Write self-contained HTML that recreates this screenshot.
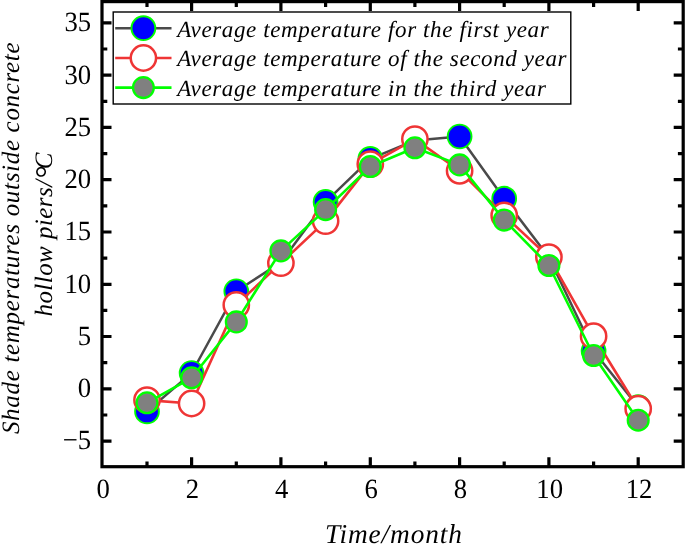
<!DOCTYPE html>
<html><head><meta charset="utf-8"><title>chart</title>
<style>html,body{margin:0;padding:0;background:#fff}svg{display:block;will-change:transform}text{font-family:"Liberation Serif",serif;fill:#000;text-rendering:geometricPrecision}</style></head>
<body>
<svg width="685" height="545" viewBox="0 0 685 545">
<rect width="685" height="545" fill="#fff"/>
<polyline points="147.0,411.4 191.6,373.0 236.3,291.3 280.9,262.4 325.6,201.9 370.3,158.9 414.9,140.4 459.6,136.5 504.2,198.7 548.9,257.3 593.6,351.0 638.2,407.0" fill="none" stroke="#4a4a4a" stroke-width="2.5" stroke-linejoin="round"/>
<circle cx="147.0" cy="411.4" r="11.9" fill="#0000ff" stroke="#00ff00" stroke-width="1.9"/>
<circle cx="191.6" cy="373.0" r="11.9" fill="#0000ff" stroke="#00ff00" stroke-width="1.9"/>
<circle cx="236.3" cy="291.3" r="11.9" fill="#0000ff" stroke="#00ff00" stroke-width="1.9"/>
<circle cx="280.9" cy="262.4" r="11.9" fill="#0000ff" stroke="#00ff00" stroke-width="1.9"/>
<circle cx="325.6" cy="201.9" r="11.9" fill="#0000ff" stroke="#00ff00" stroke-width="1.9"/>
<circle cx="370.3" cy="158.9" r="11.9" fill="#0000ff" stroke="#00ff00" stroke-width="1.9"/>
<circle cx="414.9" cy="140.4" r="11.9" fill="#0000ff" stroke="#00ff00" stroke-width="1.9"/>
<circle cx="459.6" cy="136.5" r="11.9" fill="#0000ff" stroke="#00ff00" stroke-width="1.9"/>
<circle cx="504.2" cy="198.7" r="11.9" fill="#0000ff" stroke="#00ff00" stroke-width="1.9"/>
<circle cx="548.9" cy="257.3" r="11.9" fill="#0000ff" stroke="#00ff00" stroke-width="1.9"/>
<circle cx="593.6" cy="351.0" r="11.9" fill="#0000ff" stroke="#00ff00" stroke-width="1.9"/>
<circle cx="638.2" cy="407.0" r="11.9" fill="#0000ff" stroke="#00ff00" stroke-width="1.9"/>
<polyline points="147.0,400.1 191.6,403.5 236.3,304.9 280.9,263.1 325.6,221.1 370.3,164.1 414.9,139.1 459.6,170.8 504.2,215.4 548.9,257.1 593.6,336.2 638.2,408.7" fill="none" stroke="#ef3535" stroke-width="2.6" stroke-linejoin="round"/>
<circle cx="147.0" cy="400.1" r="12.65" fill="#fff" stroke="#ef3535" stroke-width="2.5"/>
<circle cx="191.6" cy="403.5" r="12.65" fill="#fff" stroke="#ef3535" stroke-width="2.5"/>
<circle cx="236.3" cy="304.9" r="12.65" fill="#fff" stroke="#ef3535" stroke-width="2.5"/>
<circle cx="280.9" cy="263.1" r="12.65" fill="#fff" stroke="#ef3535" stroke-width="2.5"/>
<circle cx="325.6" cy="221.1" r="12.65" fill="#fff" stroke="#ef3535" stroke-width="2.5"/>
<circle cx="370.3" cy="164.1" r="12.65" fill="#fff" stroke="#ef3535" stroke-width="2.5"/>
<circle cx="414.9" cy="139.1" r="12.65" fill="#fff" stroke="#ef3535" stroke-width="2.5"/>
<circle cx="459.6" cy="170.8" r="12.65" fill="#fff" stroke="#ef3535" stroke-width="2.5"/>
<circle cx="504.2" cy="215.4" r="12.65" fill="#fff" stroke="#ef3535" stroke-width="2.5"/>
<circle cx="548.9" cy="257.1" r="12.65" fill="#fff" stroke="#ef3535" stroke-width="2.5"/>
<circle cx="593.6" cy="336.2" r="12.65" fill="#fff" stroke="#ef3535" stroke-width="2.5"/>
<circle cx="638.2" cy="408.7" r="12.65" fill="#fff" stroke="#ef3535" stroke-width="2.5"/>
<polyline points="147.0,402.8 191.6,377.8 236.3,321.9 280.9,250.9 325.6,209.6 370.3,166.5 414.9,147.8 459.6,164.9 504.2,220.1 548.9,265.5 593.6,355.5 638.2,420.2" fill="none" stroke="#00ff00" stroke-width="2.6" stroke-linejoin="round"/>
<circle cx="147.0" cy="402.8" r="10.4" fill="#808080" stroke="#00ff00" stroke-width="2.3"/>
<circle cx="191.6" cy="377.8" r="10.4" fill="#808080" stroke="#00ff00" stroke-width="2.3"/>
<circle cx="236.3" cy="321.9" r="10.4" fill="#808080" stroke="#00ff00" stroke-width="2.3"/>
<circle cx="280.9" cy="250.9" r="10.4" fill="#808080" stroke="#00ff00" stroke-width="2.3"/>
<circle cx="325.6" cy="209.6" r="10.4" fill="#808080" stroke="#00ff00" stroke-width="2.3"/>
<circle cx="370.3" cy="166.5" r="10.4" fill="#808080" stroke="#00ff00" stroke-width="2.3"/>
<circle cx="414.9" cy="147.8" r="10.4" fill="#808080" stroke="#00ff00" stroke-width="2.3"/>
<circle cx="459.6" cy="164.9" r="10.4" fill="#808080" stroke="#00ff00" stroke-width="2.3"/>
<circle cx="504.2" cy="220.1" r="10.4" fill="#808080" stroke="#00ff00" stroke-width="2.3"/>
<circle cx="548.9" cy="265.5" r="10.4" fill="#808080" stroke="#00ff00" stroke-width="2.3"/>
<circle cx="593.6" cy="355.5" r="10.4" fill="#808080" stroke="#00ff00" stroke-width="2.3"/>
<circle cx="638.2" cy="420.2" r="10.4" fill="#808080" stroke="#00ff00" stroke-width="2.3"/>
<g stroke="#000" stroke-width="3.2" fill="none" stroke-linecap="butt">
<rect x="102.0" y="1.6" width="581.2" height="465.09999999999997"/>
<path d="M147.0 466.7v-5.3M147.0 1.6v5.3M191.6 466.7v-9.5M191.6 1.6v9.5M236.3 466.7v-5.3M236.3 1.6v5.3M280.9 466.7v-9.5M280.9 1.6v9.5M325.6 466.7v-5.3M325.6 1.6v5.3M370.3 466.7v-9.5M370.3 1.6v9.5M414.9 466.7v-5.3M414.9 1.6v5.3M459.6 466.7v-9.5M459.6 1.6v9.5M504.2 466.7v-5.3M504.2 1.6v5.3M548.9 466.7v-9.5M548.9 1.6v9.5M593.6 466.7v-5.3M593.6 1.6v5.3M638.2 466.7v-9.5M638.2 1.6v9.5M102.0 441.1h9.5M683.2 441.1h-9.5M102.0 415.0h5.3M683.2 415.0h-5.3M102.0 388.8h9.5M683.2 388.8h-9.5M102.0 362.7h5.3M683.2 362.7h-5.3M102.0 336.5h9.5M683.2 336.5h-9.5M102.0 310.4h5.3M683.2 310.4h-5.3M102.0 284.3h9.5M683.2 284.3h-9.5M102.0 258.1h5.3M683.2 258.1h-5.3M102.0 232.0h9.5M683.2 232.0h-9.5M102.0 205.9h5.3M683.2 205.9h-5.3M102.0 179.7h9.5M683.2 179.7h-9.5M102.0 153.6h5.3M683.2 153.6h-5.3M102.0 127.4h9.5M683.2 127.4h-9.5M102.0 101.3h5.3M683.2 101.3h-5.3M102.0 75.2h9.5M683.2 75.2h-9.5M102.0 49.0h5.3M683.2 49.0h-5.3M102.0 22.9h9.5M683.2 22.9h-9.5" stroke-width="3.2"/>
</g>
<text transform="translate(103.1,498) scale(0.96,1)" font-size="27.8" text-anchor="middle">0</text>
<text transform="translate(192.4,498) scale(0.96,1)" font-size="27.8" text-anchor="middle">2</text>
<text transform="translate(281.7,498) scale(0.96,1)" font-size="27.8" text-anchor="middle">4</text>
<text transform="translate(371.1,498) scale(0.96,1)" font-size="27.8" text-anchor="middle">6</text>
<text transform="translate(460.4,498) scale(0.96,1)" font-size="27.8" text-anchor="middle">8</text>
<text transform="translate(549.7,498) scale(0.96,1)" font-size="27.8" text-anchor="middle">10</text>
<text transform="translate(639.0,498) scale(0.96,1)" font-size="27.8" text-anchor="middle">12</text>
<text transform="translate(91.1,449.4) scale(0.96,1)" font-size="27.8" text-anchor="end">−5</text>
<text transform="translate(91.1,397.1) scale(0.96,1)" font-size="27.8" text-anchor="end">0</text>
<text transform="translate(91.1,344.8) scale(0.96,1)" font-size="27.8" text-anchor="end">5</text>
<text transform="translate(91.1,292.6) scale(0.96,1)" font-size="27.8" text-anchor="end">10</text>
<text transform="translate(91.1,240.3) scale(0.96,1)" font-size="27.8" text-anchor="end">15</text>
<text transform="translate(91.1,188.0) scale(0.96,1)" font-size="27.8" text-anchor="end">20</text>
<text transform="translate(91.1,135.8) scale(0.96,1)" font-size="27.8" text-anchor="end">25</text>
<text transform="translate(91.1,83.5) scale(0.96,1)" font-size="27.8" text-anchor="end">30</text>
<text transform="translate(91.1,31.2) scale(0.96,1)" font-size="27.8" text-anchor="end">35</text>
<text x="393.9" y="542.9" font-size="27.3" font-style="italic" text-anchor="middle" letter-spacing="0.9">Time/month</text>
<text transform="translate(19.2,237.9) rotate(-90)" font-size="25" font-style="italic" text-anchor="middle" letter-spacing="0.69">Shade temperatures outside concrete</text>
<text transform="translate(51.8,234.3) rotate(-90)" font-size="25" font-style="italic" text-anchor="middle" letter-spacing="0.45">hollow piers/<tspan font-size="33" dy="6.3" letter-spacing="-2.9">°</tspan><tspan dy="-6.3">C</tspan></text>
<rect x="113.2" y="12" width="457.6" height="92" fill="#fff" stroke="#000" stroke-width="1.4"/>
<line x1="115.2" x2="171.5" y1="28.2" y2="28.2" stroke="#4a4a4a" stroke-width="2.4"/>
<circle cx="143.4" cy="28.2" r="11.9" fill="#0000ff" stroke="#00ff00" stroke-width="1.9"/>
<text x="177.2" y="36.6" font-size="23" font-style="italic" letter-spacing="0.62">Average temperature for the first year</text>
<line x1="115.2" x2="171.5" y1="58.0" y2="58.0" stroke="#ef3535" stroke-width="2.5"/>
<circle cx="143.4" cy="58.0" r="12.65" fill="#fff" stroke="#ef3535" stroke-width="2.5"/>
<text x="177.2" y="66.4" font-size="23" font-style="italic" letter-spacing="0.62">Average temperature of the second year</text>
<line x1="115.2" x2="171.5" y1="87.6" y2="87.6" stroke="#00ff00" stroke-width="2.6"/>
<circle cx="143.4" cy="87.6" r="10.4" fill="#808080" stroke="#00ff00" stroke-width="2.3"/>
<text x="177.2" y="96.0" font-size="23" font-style="italic" letter-spacing="0.62">Average temperature in the third year</text>
</svg>
</body></html>
